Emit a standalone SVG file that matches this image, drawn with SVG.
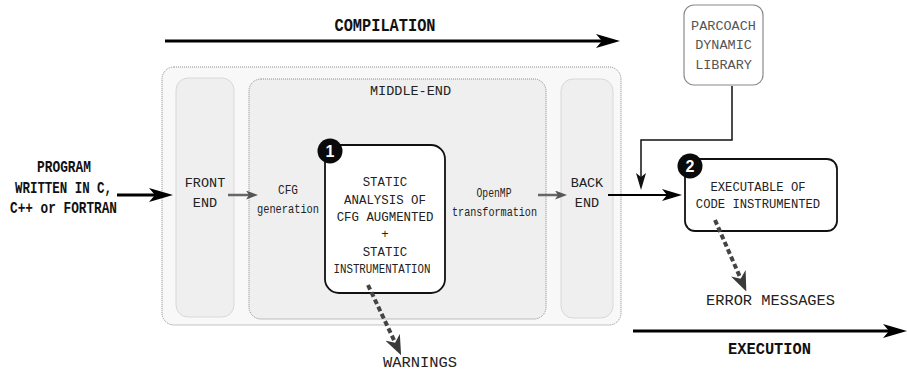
<svg xmlns="http://www.w3.org/2000/svg" width="907" height="371" viewBox="0 0 907 371">
<style>
.t{font-family:"Liberation Mono","DejaVu Sans Mono",monospace;fill:#222;text-anchor:middle}
.b{font-family:"Liberation Mono","DejaVu Sans Mono",monospace;font-weight:bold;fill:#111;text-anchor:middle}
.lane{fill:#efefef;stroke:#d8d8d8;stroke-width:1}
.dot{stroke:#8a8a8a;stroke-width:1;stroke-dasharray:1 1}
.node{fill:#fff;stroke:#111;stroke-width:1.8}
.badge{fill:#0a0a0a}
.bt{font-family:"Liberation Sans","DejaVu Sans",sans-serif;font-weight:bold;fill:#fff;text-anchor:middle;font-size:16px}
.lib{fill:#555}
.big{stroke:#000;stroke-width:3;fill:none}
.mid{stroke:#000;stroke-width:2.2;fill:none}
.thin{stroke:#111;stroke-width:1.5;fill:none}
.gray{stroke:#666;stroke-width:2.5;fill:none}
.dash{stroke:#444;stroke-width:4;fill:none;stroke-dasharray:5 3}
</style>
<defs>
<marker id="ahBig" markerUnits="userSpaceOnUse" viewBox="0 0 24 14" refX="10" refY="7" markerWidth="24" markerHeight="14" orient="auto">
<path d="M0,0 L24,7 L0,14 L6,7 Z" fill="#000"/>
</marker>
<marker id="ahMid" markerUnits="userSpaceOnUse" viewBox="0 0 20 12" refX="8" refY="6" markerWidth="20" markerHeight="12" orient="auto">
<path d="M0,0 L20,6 L0,12 L5,6 Z" fill="#000"/>
</marker>
<marker id="ahThin" markerUnits="userSpaceOnUse" viewBox="0 0 17 10" refX="6" refY="5" markerWidth="17" markerHeight="10" orient="auto">
<path d="M0,0 L17,5 L0,10 L4,5 Z" fill="#111"/>
</marker>
<marker id="ahGray" markerUnits="userSpaceOnUse" viewBox="0 0 12 9" refX="4" refY="4.5" markerWidth="12" markerHeight="9" orient="auto">
<path d="M0,0 L12,4.5 L0,9 L3,4.5 Z" fill="#555"/>
</marker>
<marker id="ahDash" markerUnits="userSpaceOnUse" viewBox="0 0 20 16" refX="8" refY="8" markerWidth="20" markerHeight="16" orient="auto">
<path d="M0,0 L20,8 L0,16 L6,8 Z" fill="#3a3a3a"/>
</marker>
</defs>

<g id="compilation-phase">
<rect x="162" y="67" width="459" height="258" rx="12" fill="#f8f8f8" class="dot"/>
</g>
<g id="front-end">
<rect class="lane" x="176" y="78" width="58" height="239" rx="12"/>
<text class="t" x="205" y="186.5" font-size="13.5">FRONT</text>
<text class="t" x="205" y="206.5" font-size="13.5">END</text>
</g>
<g id="middle-end">
<rect x="249" y="79" width="297" height="240" rx="12" fill="#efefef" class="dot"/>
<text class="t" x="410.5" y="95" font-size="13.5">MIDDLE-END</text>
</g>
<g id="cfg-generation">
<text class="t" x="288" y="193.5" font-size="12.5" textLength="20" lengthAdjust="spacingAndGlyphs">CFG</text>
<text class="t" x="288" y="213" font-size="12.5" textLength="62" lengthAdjust="spacingAndGlyphs">generation</text>
</g>
<g id="openmp-transformation">
<text class="t" x="494" y="197" font-size="12.5" textLength="35" lengthAdjust="spacingAndGlyphs">OpenMP</text>
<text class="t" x="494.5" y="216" font-size="12.5" textLength="85" lengthAdjust="spacingAndGlyphs">transformation</text>
</g>
<g id="back-end">
<rect class="lane" x="561" y="79" width="52" height="239" rx="12"/>
<text class="t" x="587" y="186.5" font-size="13.5">BACK</text>
<text class="t" x="587" y="206.5" font-size="13.5">END</text>
</g>
<g id="static-analysis">
<rect class="node" x="325" y="145" width="120" height="148" rx="14"/>
<text class="t" x="385" y="186" font-size="12.4">STATIC</text>
<text class="t" x="385" y="203.5" font-size="12.4">ANALYSIS OF</text>
<text class="t" x="385" y="221" font-size="12.4">CFG AUGMENTED</text>
<text class="t" x="385" y="237.5" font-size="12.4">+</text>
<text class="t" x="385" y="255.5" font-size="12.4">STATIC</text>
<text class="t" x="382" y="272.5" font-size="12.4" textLength="97" lengthAdjust="spacingAndGlyphs">INSTRUMENTATION</text>
<circle class="badge" cx="330" cy="151" r="12.5"/>
<text class="bt" x="330" y="157">1</text>
</g>
<g id="parcoach-library">
<rect x="684" y="5" width="79" height="80" rx="10" fill="#fff" stroke="#8a8a8a" stroke-width="1.2"/>
<text class="t lib" x="723.5" y="29.5" font-size="13.5" style="fill:#555">PARCOACH</text>
<text class="t lib" x="723.5" y="49" font-size="13.5" style="fill:#555">DYNAMIC</text>
<text class="t lib" x="723.5" y="68.5" font-size="13.5" style="fill:#555">LIBRARY</text>
</g>
<g id="executable">
<rect class="node" x="685" y="159" width="152" height="72" rx="10"/>
<text class="t" x="758" y="190.5" font-size="12.2">EXECUTABLE OF</text>
<text class="t" x="758" y="207.5" font-size="12.2">CODE INSTRUMENTED</text>
<circle class="badge" cx="690" cy="166" r="12.5"/>
<text class="bt" x="690" y="172">2</text>
</g>
<g id="program-input">
<text class="b" x="64" y="172" font-size="16" textLength="54" lengthAdjust="spacingAndGlyphs">PROGRAM</text>
<text class="b" x="63.5" y="193" font-size="16" textLength="97" lengthAdjust="spacingAndGlyphs">WRITTEN IN C,</text>
<text class="b" x="63.5" y="213" font-size="16" textLength="107" lengthAdjust="spacingAndGlyphs">C++ or FORTRAN</text>
</g>
<g id="warnings">
<text class="t" x="420" y="367" font-size="15" textLength="74" lengthAdjust="spacingAndGlyphs">WARNINGS</text>
</g>
<g id="error-messages">
<text class="t" x="770.5" y="304.5" font-size="15" textLength="129" lengthAdjust="spacingAndGlyphs">ERROR MESSAGES</text>
</g>
<g id="compilation-label">
<text class="b" x="385" y="31" font-size="18" textLength="101" lengthAdjust="spacingAndGlyphs">COMPILATION</text>
</g>
<g id="execution-label">
<text class="b" x="769.5" y="354" font-size="17" textLength="83" lengthAdjust="spacingAndGlyphs">EXECUTION</text>
</g>

<g id="connectors">
<line class="big" x1="165" y1="41" x2="606" y2="41" marker-end="url(#ahBig)"/>
<line class="big" x1="633" y1="331" x2="893" y2="331" marker-end="url(#ahBig)"/>
<line class="big" x1="117" y1="195" x2="159" y2="195" marker-end="url(#ahBig)"/>
<line class="gray" x1="228" y1="195" x2="250" y2="195" marker-end="url(#ahGray)"/>
<line class="gray" x1="538" y1="195" x2="559" y2="195" marker-end="url(#ahGray)"/>
<line class="mid" x1="608" y1="195" x2="670" y2="195" marker-end="url(#ahMid)"/>
<path class="thin" d="M732,86 V140 H641 V179" marker-end="url(#ahThin)"/>
<line class="dash" x1="368" y1="285" x2="396" y2="344.5" marker-end="url(#ahDash)"/>
<line class="dash" x1="715" y1="220" x2="741.5" y2="280.5" marker-end="url(#ahDash)"/>
</g>
</svg>
